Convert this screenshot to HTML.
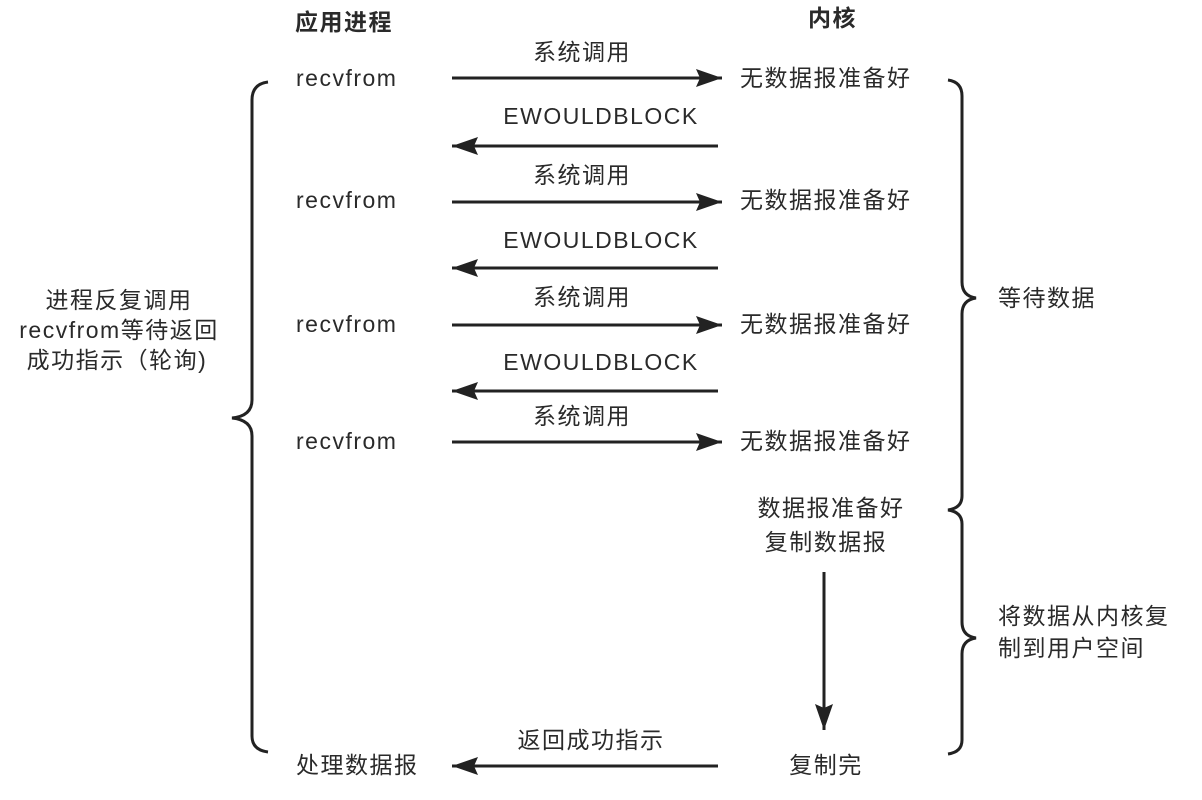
<!DOCTYPE html>
<html><head><meta charset="utf-8"><style>
body{margin:0;background:#fff;}
svg text{font-family:"Liberation Sans","Noto Sans CJK SC",sans-serif;font-size:23px;letter-spacing:1.5px;fill:#2a2a2a;}
</style></head><body>
<svg width="1202" height="795" viewBox="0 0 1202 795" xmlns="http://www.w3.org/2000/svg">
<defs>
<marker id="b" markerWidth="26" markerHeight="18" refX="26" refY="9" orient="auto" markerUnits="userSpaceOnUse"><path d="M0,0 L26,9 L0,18 L4,9z" fill="#222"/></marker></defs>
<text x="295" y="30" style="font-weight:bold">应用进程</text>
<text x="808" y="26" style="font-weight:bold">内核</text>
<g stroke="#222" stroke-width="3" fill="none">
<line x1="452" y1="78" x2="722" y2="78" marker-end="url(#b)"/>
<line x1="718" y1="146" x2="452" y2="146" marker-end="url(#b)"/>
<line x1="452" y1="202" x2="722" y2="202" marker-end="url(#b)"/>
<line x1="718" y1="268" x2="452" y2="268" marker-end="url(#b)"/>
<line x1="452" y1="325" x2="722" y2="325" marker-end="url(#b)"/>
<line x1="718" y1="391" x2="452" y2="391" marker-end="url(#b)"/>
<line x1="452" y1="442" x2="722" y2="442" marker-end="url(#b)"/>
<line x1="718" y1="766" x2="452" y2="766" marker-end="url(#b)"/>
<line x1="824" y1="572" x2="824" y2="730" marker-end="url(#b)"/>
<path d="M268,82 Q252,84 252,100 L252,400 Q252,416 232,418 Q252,420 252,436 L252,736 Q252,750 268,752"/>
<path d="M948,80 Q962,82 962,96 L962,282 Q962,296 976,298 Q962,300 962,314 L962,496 Q962,508 948,510 Q962,512 962,524 L962,622 Q962,636 976,638 Q962,640 962,654 L962,740 Q962,752 948,754"/>
</g>
<g>
<text x="296" y="86">recvfrom</text>
<text x="296" y="208">recvfrom</text>
<text x="296" y="332">recvfrom</text>
<text x="296" y="449">recvfrom</text>
<text x="296" y="773">处理数据报</text>
<text x="740" y="86">无数据报准备好</text>
<text x="740" y="208">无数据报准备好</text>
<text x="740" y="332">无数据报准备好</text>
<text x="740" y="449">无数据报准备好</text>
<text x="831" y="516" text-anchor="middle">数据报准备好</text>
<text x="826" y="550" text-anchor="middle">复制数据报</text>
<text x="826" y="773" text-anchor="middle">复制完</text>
<text x="582" y="60" text-anchor="middle">系统调用</text>
<text x="582" y="183" text-anchor="middle">系统调用</text>
<text x="582" y="305" text-anchor="middle">系统调用</text>
<text x="582" y="424" text-anchor="middle">系统调用</text>
<text x="601" y="124" text-anchor="middle">EWOULDBLOCK</text>
<text x="601" y="248" text-anchor="middle">EWOULDBLOCK</text>
<text x="601" y="370" text-anchor="middle">EWOULDBLOCK</text>
<text x="591" y="748" text-anchor="middle">返回成功指示</text>
<text x="119" y="308" text-anchor="middle">进程反复调用</text>
<text x="119" y="338" text-anchor="middle">recvfrom等待返回</text>
<text x="117" y="368" text-anchor="middle">成功指示（轮询)</text>
<text x="998" y="306">等待数据</text>
<text x="998" y="624">将数据从内核复</text>
<text x="998" y="656">制到用户空间</text>
</g>
</svg>
</body></html>
